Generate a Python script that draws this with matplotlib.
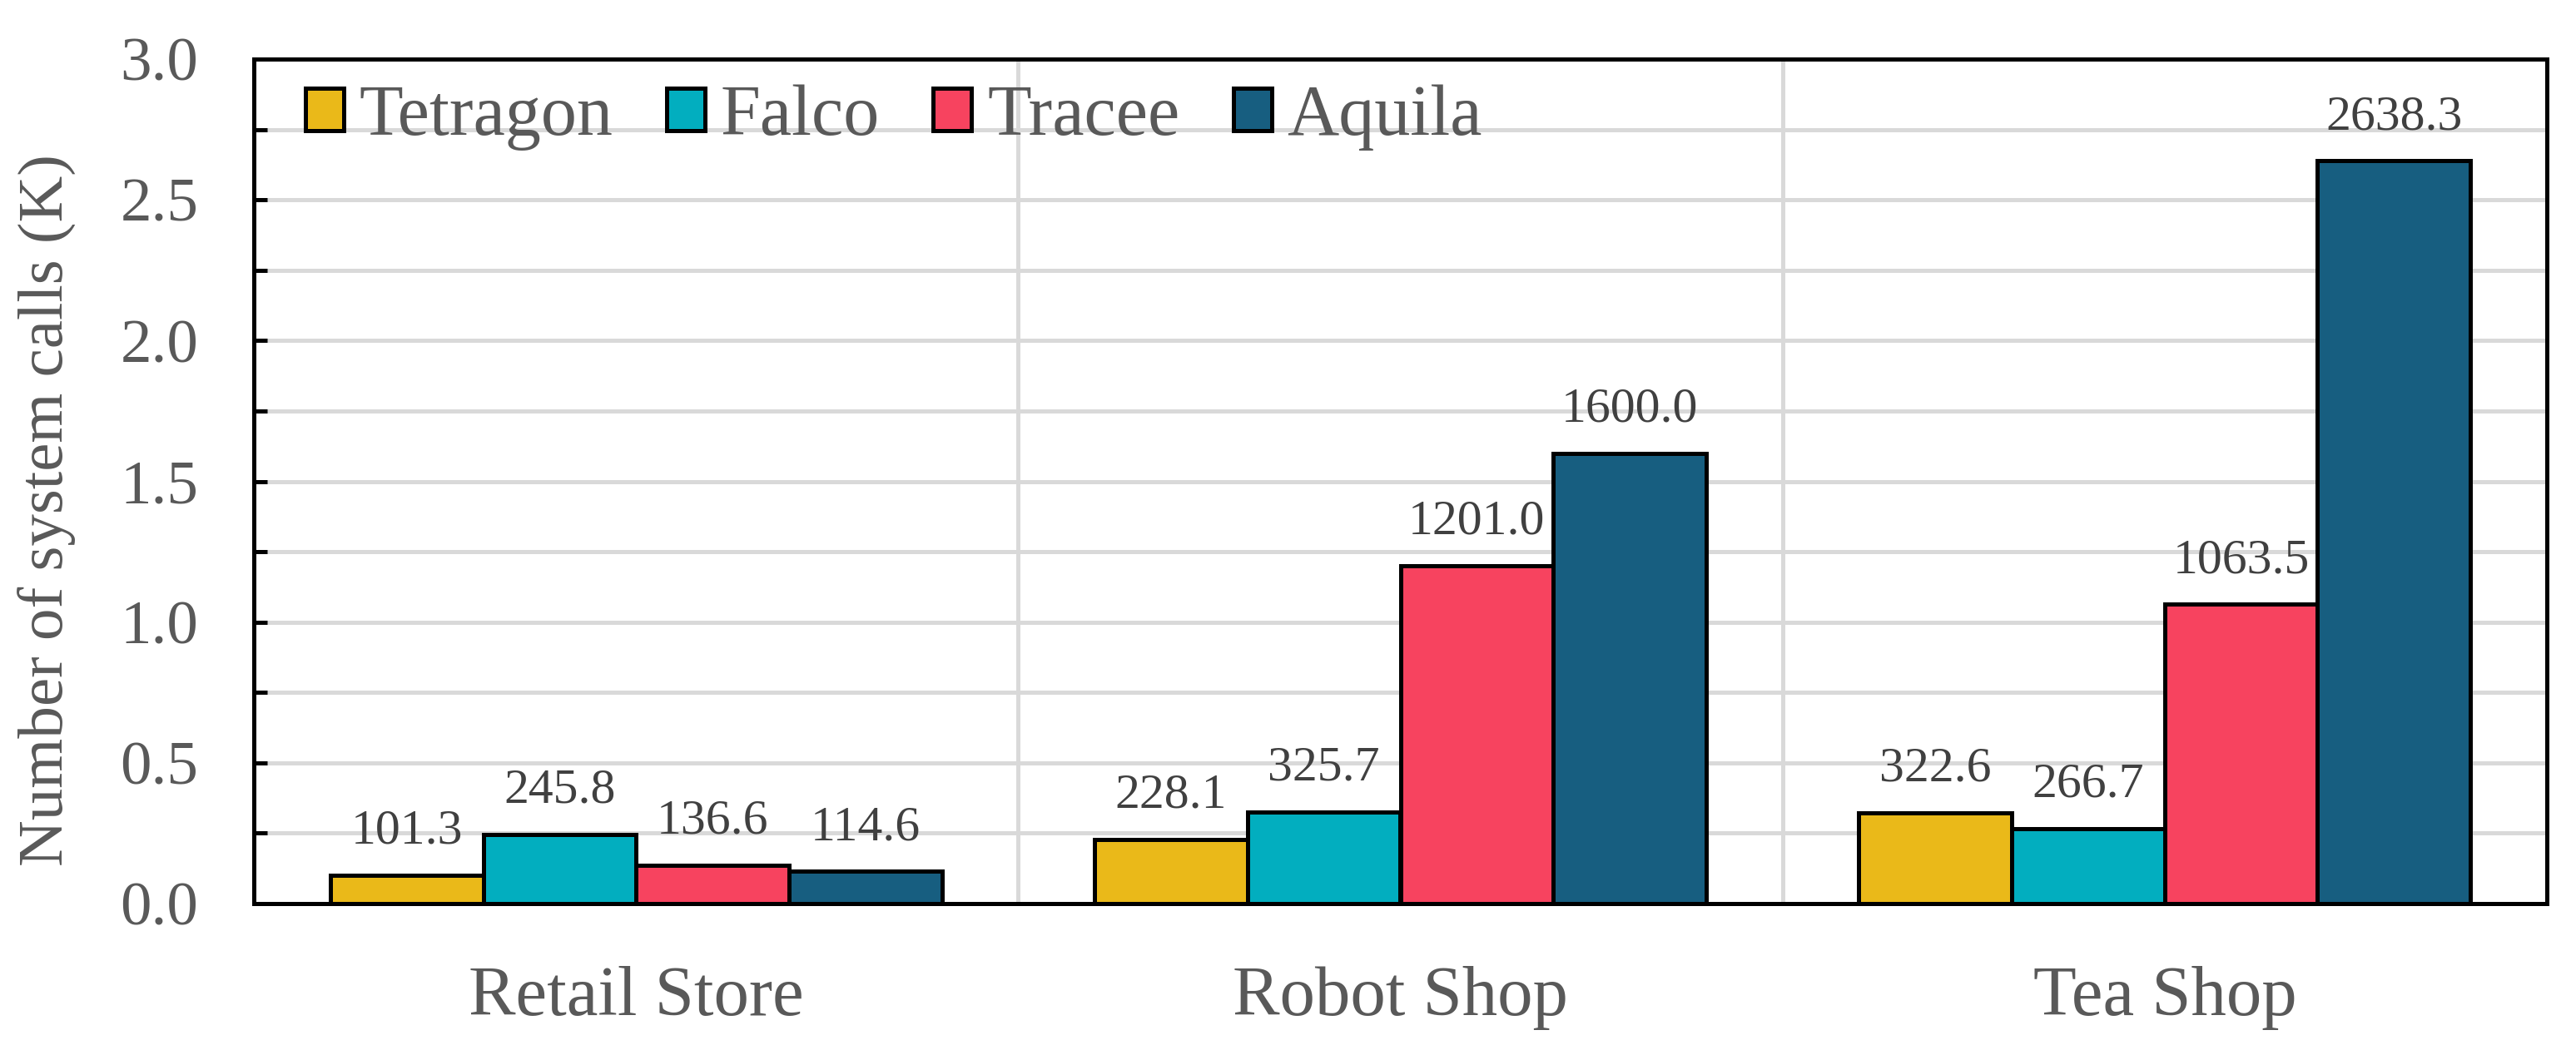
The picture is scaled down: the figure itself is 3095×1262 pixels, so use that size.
import matplotlib
matplotlib.use("Agg")
import matplotlib.pyplot as plt
import numpy as np
from matplotlib.ticker import MultipleLocator, FormatStrFormatter

# ---- data ----
categories = ["Retail Store", "Robot Shop", "Tea Shop"]
series_names = ["Tetragon", "Falco", "Tracee", "Aquila"]
tetragon = [101.3, 228.1, 322.6]
falco = [245.8, 325.7, 266.7]
tracee = [136.6, 1201.0, 1063.5]
aquila = [114.6, 1600.0, 2638.3]
colors = ["#EAB919", "#02AEBF", "#F7435F", "#175E80"]
ylabel = "Number of system calls (K)"

plt.rcParams["font.family"] = ["Liberation Serif", "DejaVu Serif"]

W, H = 3095, 1262
fig = plt.figure(figsize=(W / 100, H / 100), dpi=100)
L, R, B, T = 305, 3060, 1086, 71
ax = fig.add_axes([L / W, 1 - B / H, (R - L) / W, (B - T) / H])

all_series = [tetragon, falco, tracee, aquila]
x = np.arange(len(categories))
bw = 0.2
for j, (name, vals, c) in enumerate(zip(series_names, all_series, colors)):
    pos = x + (j - 1.5) * bw
    v = np.array(vals) / 1000.0
    ax.bar(pos, v, width=bw, color=c, edgecolor="black", linewidth=3.6,
           label=name, zorder=3)
    for px, pv, raw in zip(pos, v, vals):
        ax.annotate(f"{raw:.1f}", (px, pv), xytext=(0, 18),
                    textcoords="offset points", ha="center", va="bottom",
                    fontsize=43, color="#404040", zorder=4)

ax.set_xlim(-0.5, 2.5)
ax.set_ylim(0, 3.0)
ax.set_xticks(x)
ax.set_xticklabels(categories)
ax.yaxis.set_major_locator(MultipleLocator(0.5))
ax.yaxis.set_minor_locator(MultipleLocator(0.25))
ax.yaxis.set_major_formatter(FormatStrFormatter("%.1f"))

ax.tick_params(axis="x", length=0, labelsize=61, labelcolor="#595959", pad=54)
ax.tick_params(axis="y", which="both", direction="in", length=11.5, width=3.6,
               labelsize=54, labelcolor="#595959", pad=48, right=False)

ax.grid(axis="y", which="both", color="#D9D9D9", linewidth=3.6, zorder=0)
for sx in [0.5, 1.5]:
    ax.axvline(sx, color="#D9D9D9", linewidth=3.6, zorder=0)
ax.set_axisbelow(True)

for s in ax.spines.values():
    s.set_linewidth(3.6)
    s.set_color("black")

ax.set_ylabel(ylabel, fontsize=55.5, color="#595959", va="center")
ax.yaxis.set_label_coords(-0.09, 0.466)

leg = ax.legend(loc="center left", bbox_to_anchor=(0.0225, 0.931), ncol=4,
                frameon=False, fontsize=62, handlelength=0.53, handleheight=0.53,
                handletextpad=0.22, columnspacing=0.75, borderpad=0,
                borderaxespad=0, labelcolor="#595959")
for h in leg.legend_handles:
    h.set_linewidth(3.6)

fig.savefig("out.png", dpi=100)
